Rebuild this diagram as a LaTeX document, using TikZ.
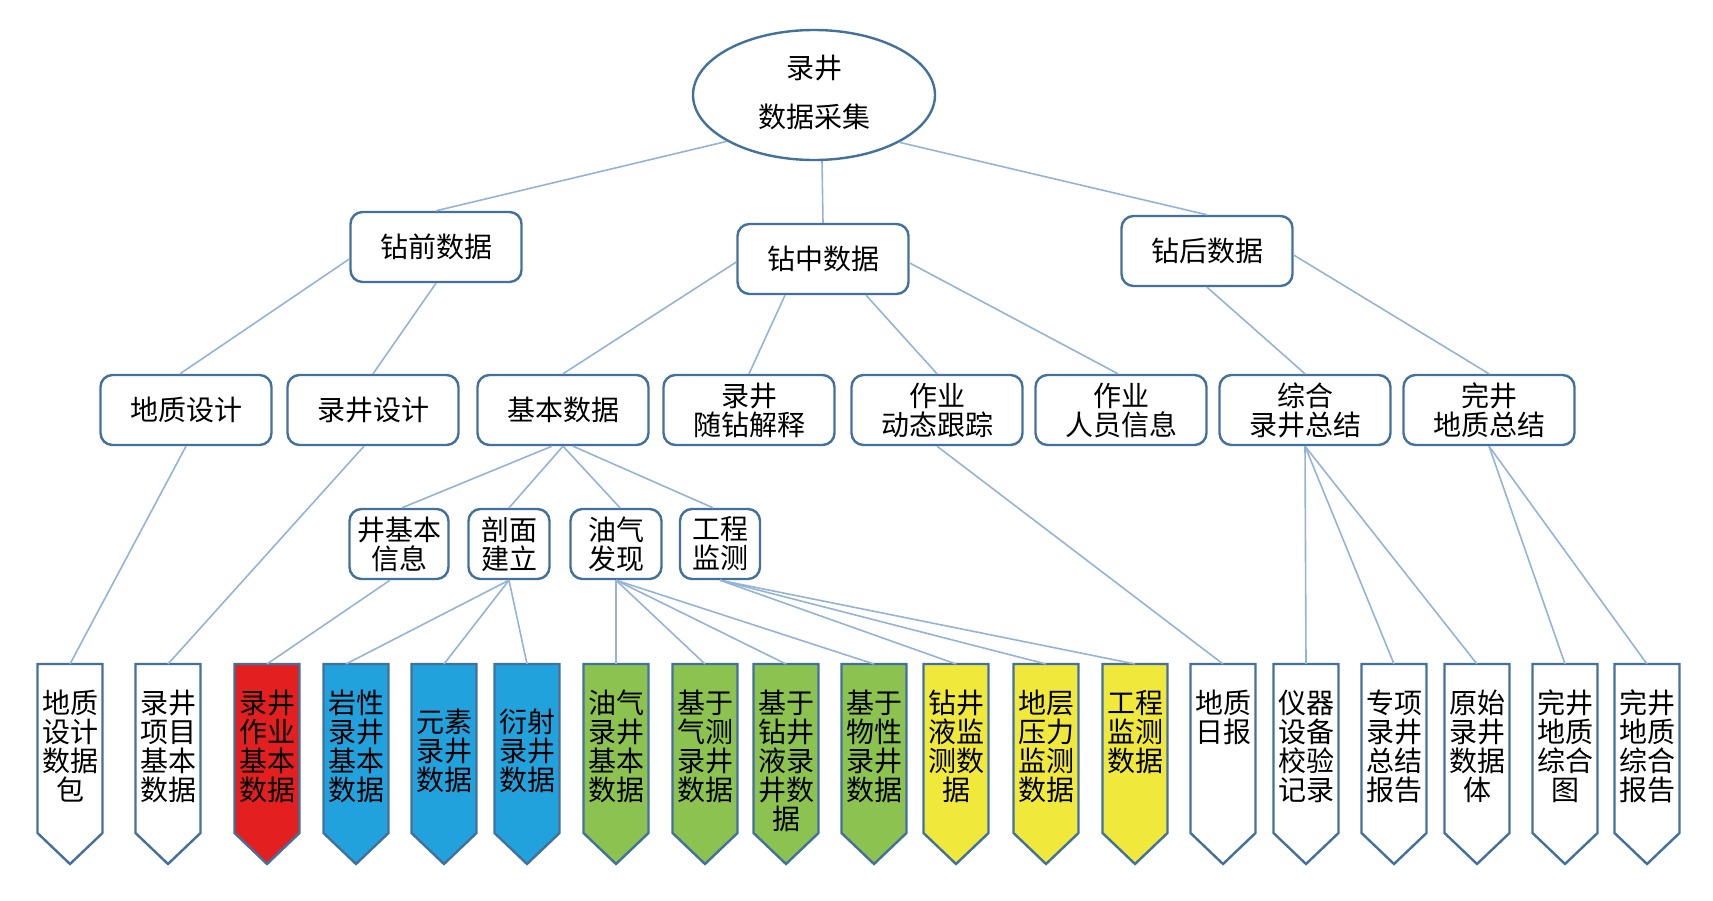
\documentclass[tikz,border=0pt]{standalone}
\usepackage{fontspec}
\newfontfamily\cjk{Noto Sans CJK SC}
\usetikzlibrary{shapes.geometric,calc}
\definecolor{bord}{HTML}{41719C}
\definecolor{conn}{HTML}{95B3D7}
\definecolor{pred}{HTML}{E41F1F}
\definecolor{pblue}{HTML}{22A2DD}
\definecolor{pgreen}{HTML}{8CC24F}
\definecolor{pyellow}{HTML}{F0E93B}
\newcommand\pent[5]{%
  \draw[pentline,fill=#3] ({#2-32.5},664) -- ({#2+32.5},664) -- ({#2+32.5},833) -- (#2,864) -- ({#2-32.5},833) -- cycle;
  \node[penttext] (#1) at (#2,664) {\rule{0pt}{#4pt}#5};
}
\begin{document}
\begin{tikzpicture}[x=1pt,y=-1pt,
 txt/.style={font=\cjk\fontsize{28pt}{29pt}\selectfont},
 rbox/.style={txt, draw=bord, line width=2.4pt, rounded corners=12pt, fill=white, minimum height=70pt, inner sep=2pt, align=center},
 wide/.style={rbox, minimum width=171pt},
 link/.style={draw=conn, line width=1.6pt},
 pentline/.style={draw=bord, line width=2.4pt, line join=miter},
 penttext/.style={txt, anchor=north, inner sep=0pt, text width=62pt, align=center}]
\useasboundingbox (0,0) rectangle (1713,900);

\node[ellipse, draw=bord, line width=2.4pt, fill=white, minimum width=242pt, minimum height=130pt, inner sep=0pt, align=center, font=\cjk\fontsize{28pt}{49pt}\selectfont] (root) at (814,95) {录井\\数据采集\rule[-8pt]{0pt}{8pt}};

\node[wide] (zq) at (436,247) {钻前数据};
\node[wide] (zz) at (823,259) {钻中数据};
\node[wide] (zh) at (1207,251) {钻后数据};

\node[wide] (dzsj) at (186,410) {地质设计};
\node[wide] (ljsj) at (373,410) {录井设计};
\node[wide] (jbsj) at (563,410) {基本数据};
\node[wide] (sui)  at (749,410) {录井\\随钻解释};
\node[wide] (dtgz) at (937,410) {作业\\动态跟踪};
\node[wide] (ryxx) at (1121,410) {作业\\人员信息};
\node[wide] (zhzj) at (1305,410) {综合\\录井总结};
\node[wide] (wjzj) at (1489,410) {完井\\地质总结};

\node[rbox, minimum width=99pt] (jbxx) at (399,544) {井基本\\信息};
\node[rbox, minimum width=81pt] (pmjl) at (509,544) {剖面\\建立};
\node[rbox, minimum width=91pt] (yqfx) at (616,544) {油气\\发现};
\node[rbox, minimum width=80pt] (gcjc) at (720,544) {工程\\监测};

\pent{p1}{70}{white}{49}{地质\\设计\\数据\\包}
\pent{p2}{168}{white}{49}{录井\\项目\\基本\\数据}
\pent{p3}{267}{pred}{49}{录井\\作业\\基本\\数据}
\pent{p4}{356}{pblue}{49}{岩性\\录井\\基本\\数据}
\pent{p5}{444}{pblue}{68}{元素\\录井\\数据}
\pent{p6}{527}{pblue}{68}{衍射\\录井\\数据}
\pent{p7}{616}{pgreen}{49}{油气\\录井\\基本\\数据}
\pent{p8}{705}{pgreen}{49}{基于\\气测\\录井\\数据}
\pent{p9}{786}{pgreen}{49}{基于\\钻井\\液录\\井数\\据}
\pent{p10}{874}{pgreen}{49}{基于\\物性\\录井\\数据}
\pent{p11}{956}{pyellow}{49}{钻井\\液监\\测数\\据}
\pent{p12}{1046}{pyellow}{49}{地层\\压力\\监测\\数据}
\pent{p13}{1135}{pyellow}{49}{工程\\监测\\数据}
\pent{p14}{1223}{white}{49}{地质\\日报}
\pent{p15}{1306}{white}{49}{仪器\\设备\\校验\\记录}
\pent{p16}{1394}{white}{49}{专项\\录井\\总结\\报告}
\pent{p17}{1477}{white}{49}{原始\\录井\\数据\\体}
\pent{p18}{1565}{white}{49}{完井\\地质\\综合\\图}
\pent{p19}{1647}{white}{49}{完井\\地质\\综合\\报告}

\draw[link] (root.208) -- (zq.north);
\draw[link] ($(root.south)+(8,0)$) -- (zz.north);
\draw[link] (root.-29) -- (zh.north);
\draw[link] ($(zq.west)+(0,12)$) -- ($(dzsj.north)+(-6,0)$);
\draw[link] (zq.south) -- (ljsj.north);
\draw[link] ($(zz.west)+(0,3)$) -- (jbsj.north);
\draw[link] ($(zz.south)+(-38,0)$) -- (sui.north);
\draw[link] ($(zz.south)+(43,0)$) -- (dtgz.north);
\draw[link] ($(zz.east)+(0,4)$) -- ($(ryxx.north)+(-3,0)$);
\draw[link] (zh.south) -- (zhzj.north);
\draw[link] ($(zh.east)+(0,4)$) -- (wjzj.north);

\draw[link] ($(jbsj.south)+(-11,0)$) -- ($(jbxx.north)+(3,0)$);
\draw[link] (jbsj.south) -- (pmjl.north);
\draw[link] (jbsj.south) -- ($(yqfx.north)+(4,0)$);
\draw[link] ($(jbsj.south)+(10,0)$) -- ($(gcjc.north)+(-7,0)$);

\draw[link] (dzsj.south) -- (p1.north);
\draw[link] ($(ljsj.south)+(-9,0)$) -- (p2.north);
\draw[link] ($(jbxx.south)+(-9,0)$) -- (p3.north);
\draw[link] (pmjl.south) -- ($(p4.north)+(-10,0)$);
\foreach \t in {p5,p6} \draw[link] (pmjl.south) -- (\t.north);
\foreach \t in {p7,p8,p9,p10} \draw[link] (yqfx.south) -- (\t.north);
\foreach \t in {p11,p12,p13} \draw[link] (gcjc.south) -- (\t.north);
\draw[link] (dtgz.south) -- (p14.north);
\foreach \t in {p15,p16,p17} \draw[link] (zhzj.south) -- (\t.north);
\foreach \t in {p18,p19} \draw[link] (wjzj.south) -- (\t.north);
\end{tikzpicture}
\end{document}
